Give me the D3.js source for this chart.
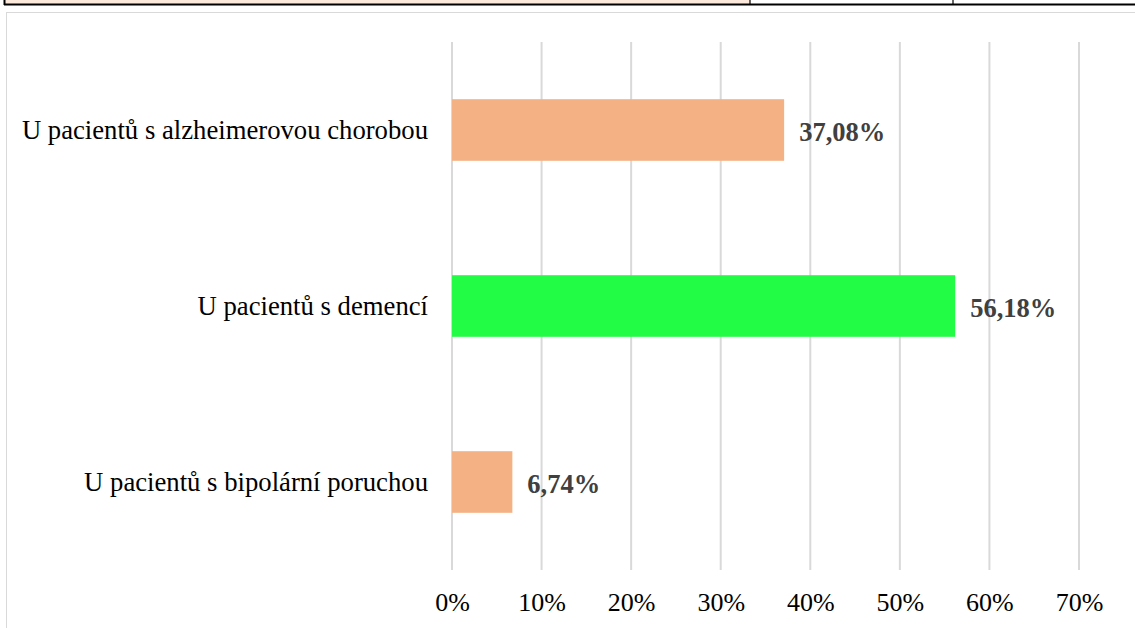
<!DOCTYPE html>
<html>
<head>
<meta charset="utf-8">
<script src="https://cdn.jsdelivr.net/npm/d3@7"></script>
<style>
  html, body { margin: 0; padding: 0; background: #fff; }
  svg { display: block; }
</style>
</head>
<body>
<svg id="chart" width="1135" height="628"></svg>
<script>
// Data
const categories = [
  "U pacientů s alzheimerovou chorobou",
  "U pacientů s demencí",
  "U pacientů s bipolární poruchou"
];
const values = [37.08, 56.18, 6.74];
const barColors = ["#f4b183", "#22fc44", "#f4b183"];
const valueLabels = ["37,08%", "56,18%", "6,74%"];
const tickValues = [0, 10, 20, 30, 40, 50, 60, 70];

const svg = d3.select("#chart");
const W = 1135, H = 628;
const font = "'Liberation Serif', 'Times New Roman', serif";

// Table fragment above the chart
const strip = svg.append("g");
strip.append("rect").attr("x", 5).attr("y", -2).attr("width", 745).attr("height", 7).attr("fill", "#fde9dc");
strip.append("line").attr("x1", 4).attr("x2", W).attr("y1", 4.5).attr("y2", 4.5).attr("stroke", "#000").attr("stroke-width", 2);
strip.append("line").attr("x1", 4.5).attr("x2", 4.5).attr("y1", 0).attr("y2", 5).attr("stroke", "#000").attr("stroke-width", 2);
[750, 953].forEach(x => strip.append("line").attr("x1", x).attr("x2", x).attr("y1", 0).attr("y2", 5).attr("stroke", "#000").attr("stroke-width", 1.2));

// Chart frame
svg.append("rect").attr("x", 6.5).attr("y", 12.5).attr("width", W).attr("height", H)
  .attr("fill", "#fff").attr("stroke", "#d9d9d9").attr("stroke-width", 1);

const margin = { left: 452, right: 1079, top: 42, bottom: 570 };

const x = d3.scaleLinear().domain([0, 70]).range([margin.left, margin.right]);
const y = d3.scaleBand().domain(categories).range([margin.top, margin.bottom]).paddingInner(0.65).paddingOuter(0.325);

// Gridlines
svg.append("g").selectAll("line").data(tickValues).join("line")
  .attr("x1", d => x(d)).attr("x2", d => x(d))
  .attr("y1", margin.top).attr("y2", margin.bottom)
  .attr("stroke", "#d9d9d9").attr("stroke-width", 2);

// Bars
svg.append("g").selectAll("rect").data(values).join("rect")
  .attr("x", x(0))
  .attr("y", (d, i) => y(categories[i]))
  .attr("width", d => x(d) - x(0))
  .attr("height", y.bandwidth())
  .attr("fill", (d, i) => barColors[i]);

// Value labels
svg.append("g").selectAll("text").data(values).join("text")
  .attr("x", d => x(d) + 15)
  .attr("y", (d, i) => y(categories[i]) + y.bandwidth() / 2)
  .attr("dy", "0.42em")
  .attr("font-family", font).attr("font-size", 26.5).attr("font-weight", "bold")
  .attr("fill", "#404040")
  .text((d, i) => valueLabels[i]);

// Category axis
const yAxis = d3.axisLeft(y).tickSize(0).tickPadding(24);
const gy = svg.append("g").attr("transform", `translate(${margin.left},0)`).call(yAxis);
gy.select(".domain").remove();
gy.selectAll("text").attr("font-family", font).attr("font-size", 26.7).attr("fill", "#000");

// Value axis
const xAxis = d3.axisBottom(x).tickValues(tickValues).tickSize(0).tickPadding(23).tickFormat(d => d + "%");
const gx = svg.append("g").attr("transform", `translate(0,${margin.bottom})`).call(xAxis);
gx.select(".domain").remove();
gx.selectAll("text").attr("font-family", font).attr("font-size", 26).attr("fill", "#000");
</script>
</body>
</html>
